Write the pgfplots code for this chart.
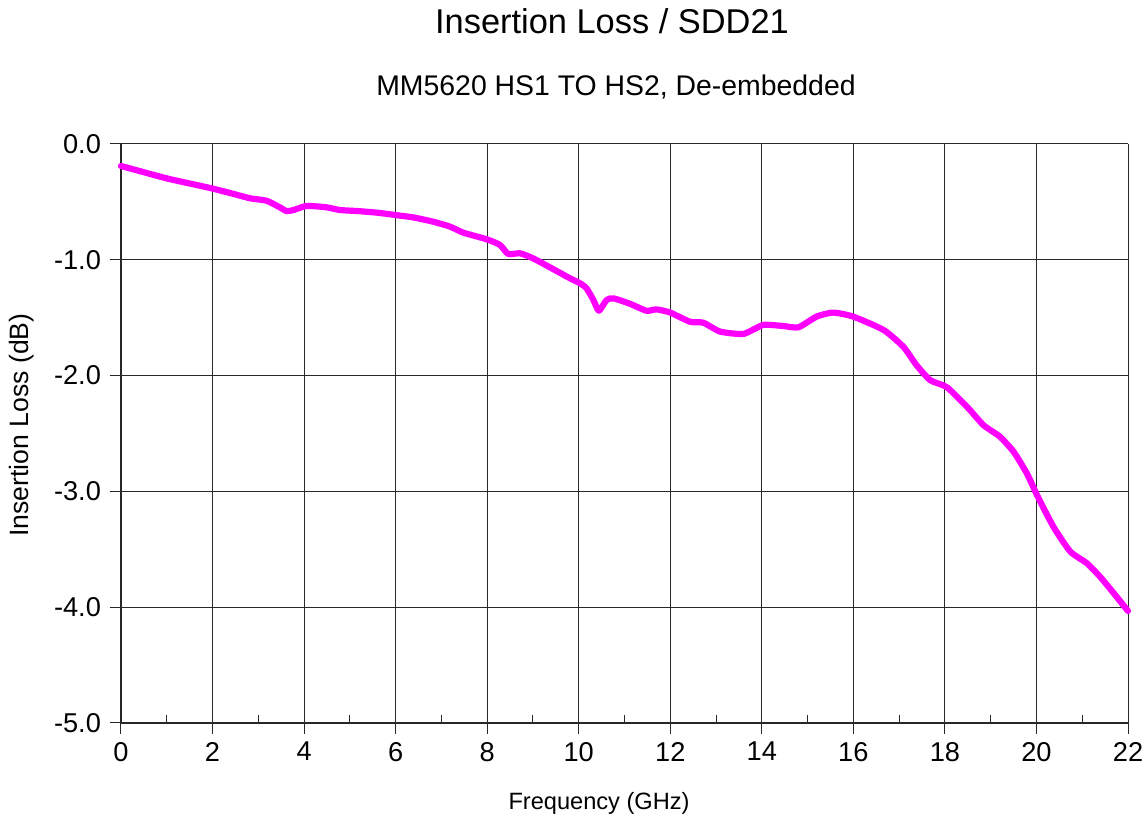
\documentclass[border=0pt]{standalone}
\usepackage{fontspec}
\setmainfont{Liberation Sans}
\usepackage{pgfplots}
\pgfplotsset{compat=1.18}

\definecolor{curve}{RGB}{255,0,255}
\definecolor{gridc}{RGB}{40,40,40}

\begin{document}
\begin{tikzpicture}
% 1 px of the reference = 0.5pt
\path[use as bounding box] (-60.5pt,-50pt) rectangle (513pt,361.5pt);
\begin{axis}[
    at={(0,0)}, anchor=south west,
    scale only axis,
    width=503.5pt, height=289.5pt,
    xmin=0, xmax=22, ymin=-5, ymax=0,
    axis lines=left,
    axis line style={-, gridc, line width=0.6pt},
    xtick={0,2,...,22},
    ytick={-5,-4,-3,-2,-1,0},
    yticklabels={-5.0,-4.0,-3.0,-2.0,-1.0,0.0},
    minor x tick num=1,
    grid=major,
    major grid style={gridc, line width=0.5pt},
    tick align=outside,
    major tick length=5.5pt,
    minor tick length=4pt,
    every tick/.style={gridc, line width=0.5pt},
    minor x tick style={yshift=4pt},
    tick label style={font=\fontsize{13.6}{15}\selectfont},
    /pgf/number format/assume math mode=true,
    xticklabel style={yshift=-0.5pt},
    yticklabel style={xshift=-1pt},
    clip=false,
]
\addplot[color=curve, line width=3.1pt, line cap=round, line join=round, smooth, tension=0.35] coordinates {
(0.00,-0.190) (0.27,-0.219) (1.00,-0.297) (1.58,-0.348) (1.98,-0.383)
(2.40,-0.425) (2.82,-0.469) (3.18,-0.490) (3.47,-0.547) (3.62,-0.580)
(3.77,-0.570) (4.06,-0.535) (4.49,-0.547) (4.78,-0.570) (5.20,-0.580)
(5.59,-0.593) (5.99,-0.613) (6.40,-0.635) (6.82,-0.671) (7.19,-0.714)
(7.48,-0.766) (7.99,-0.823) (8.28,-0.872) (8.46,-0.950) (8.72,-0.944)
(9.00,-0.987) (9.37,-1.065) (9.81,-1.160) (10.03,-1.203) (10.17,-1.246)
(10.32,-1.347) (10.44,-1.440) (10.61,-1.347) (10.76,-1.333) (11.12,-1.380)
(11.48,-1.440) (11.70,-1.428) (12.00,-1.456) (12.43,-1.535) (12.72,-1.543)
(13.09,-1.620) (13.60,-1.640) (14.03,-1.563) (14.47,-1.572) (14.80,-1.583)
(15.20,-1.490) (15.56,-1.456) (16.00,-1.491) (16.66,-1.606) (17.09,-1.750)
(17.38,-1.910) (17.68,-2.040) (18.04,-2.100) (18.48,-2.268) (18.84,-2.427)
(19.20,-2.527) (19.50,-2.657) (19.79,-2.844) (20.01,-3.030) (20.37,-3.305)
(20.74,-3.520) (21.10,-3.620) (21.39,-3.737) (21.69,-3.880) (22.00,-4.033)
};
\end{axis}
\node[font=\fontsize{17.2}{20}\selectfont] at (245.5pt,351pt) {Insertion Loss / SDD21};
\node[font=\fontsize{14.2}{16}\selectfont] at (247.5pt,318pt) {MM5620 HS1 TO HS2, De-embedded};
\node[font=\fontsize{11.8}{13}\selectfont] at (239pt,-40pt) {Frequency (GHz)};
\node[font=\fontsize{13.3}{15}\selectfont, rotate=90] at (-49.5pt,149pt) {Insertion Loss (dB)};
\end{tikzpicture}
\end{document}
